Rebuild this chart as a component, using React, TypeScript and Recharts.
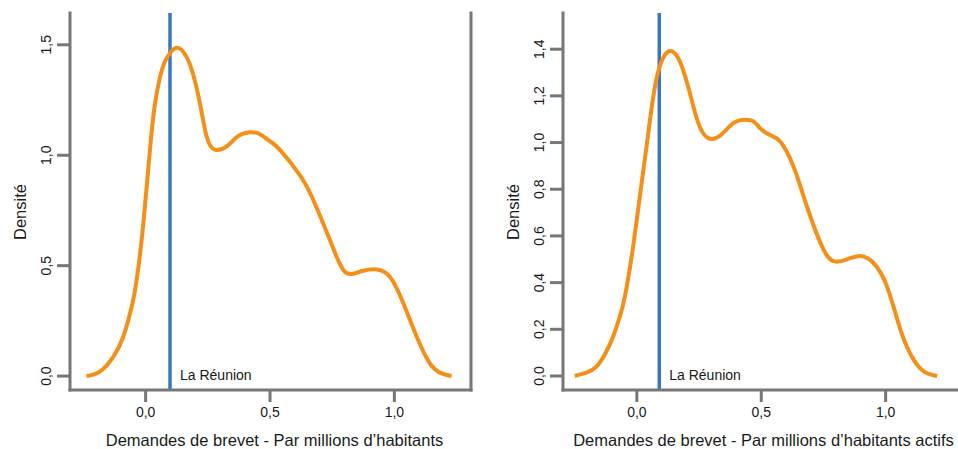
import { LineChart, Line, XAxis, YAxis, ReferenceLine } from "recharts";

const leftX = [
  -0.238, -0.184, -0.13, -0.09, -0.056, -0.036, -0.016, -0.003, 0.01, 0.022,
  0.036, 0.055, 0.078, 0.105, 0.131, 0.171, 0.212, 0.245, 0.279, 0.326, 0.37,
  0.419, 0.46, 0.5, 0.54, 0.62, 0.674, 0.741, 0.768, 0.795, 0.828, 0.875,
  0.929, 0.982, 1.036, 1.09, 1.143, 1.19, 1.23,
];
const leftDensity = [
  0.0, 0.02, 0.087, 0.178, 0.314, 0.435, 0.616, 0.767, 0.93, 1.08, 1.22, 1.34,
  1.425, 1.472, 1.486, 1.43, 1.27, 1.086, 1.025, 1.04, 1.085, 1.104, 1.095,
  1.063, 1.024, 0.91, 0.797, 0.616, 0.54, 0.48, 0.462, 0.477, 0.483, 0.45,
  0.33, 0.178, 0.057, 0.012, 0.0,
];

const rightX = [
  -0.25, -0.2, -0.163, -0.13, -0.095, -0.07, -0.048, -0.015, 0.012, 0.039,
  0.066, 0.092, 0.126, 0.166, 0.206, 0.247, 0.287, 0.334, 0.388, 0.435, 0.47,
  0.496, 0.536, 0.577, 0.63, 0.684, 0.751, 0.798, 0.845, 0.899, 0.952, 1.006,
  1.06, 1.113, 1.16, 1.207,
];
const rightDensity = [
  0.0, 0.015, 0.04, 0.09, 0.17, 0.25, 0.341, 0.555, 0.77, 0.984, 1.198, 1.326,
  1.39, 1.362, 1.24, 1.083, 1.019, 1.029, 1.083, 1.098, 1.09, 1.061, 1.032,
  1.003, 0.896, 0.725, 0.54, 0.49, 0.5, 0.514, 0.483, 0.382, 0.197, 0.069,
  0.015, 0.0,
];

const xTicks = [0, 0.5, 1];
const leftYTicks = [0, 0.5, 1, 1.5];
const rightYTicks = [0, 0.2, 0.4, 0.6, 0.8, 1, 1.2, 1.4];

const leftReunion = 0.098;
const rightReunion = 0.09;

const ORANGE = "#f39019";
const BLUE = "#3b74bf";
const GRAY = "#777777";
const TEXT = "#1a1a1a";
const FONT = "'Liberation Sans', Arial, Helvetica, sans-serif";

const fmt = (v: number) => v.toFixed(1).replace(".", ",");

function XTick(props: any) {
  const { x, y, payload } = props;
  return (
    <text x={x} y={y} dy="0.71em" textAnchor="middle" fontSize={14} fill={TEXT} fontFamily={FONT}>
      {fmt(payload.value)}
    </text>
  );
}

function YTick(props: any) {
  const { x, y, payload } = props;
  return (
    <text
      x={x}
      y={y}
      transform={`rotate(-90 ${x} ${y})`}
      textAnchor="middle"
      fontSize={14}
      fill={TEXT}
      fontFamily={FONT}
    >
      {fmt(payload.value)}
    </text>
  );
}

interface PanelProps {
  xs: number[];
  ys: number[];
  xDomain: [number, number];
  yDomain: [number, number];
  yTicks: number[];
  reunion: number;
  xTitle: string;
  titleShift: number;
}

function Panel({ xs, ys, xDomain, yDomain, yTicks, reunion, xTitle, titleShift }: PanelProps) {
  const data = xs.map((x, i) => ({ x, y: ys[i] }));
  const axisLine = { stroke: GRAY, strokeWidth: 3, strokeLinecap: "square" as const };
  const tickLine = { stroke: GRAY, strokeWidth: 3 };
  return (
    <LineChart width={480} height={449} data={data} margin={{ top: 13, right: 8, bottom: 0, left: 0 }}>
      <XAxis
        dataKey="x"
        type="number"
        domain={xDomain}
        allowDataOverflow
        ticks={xTicks}
        tick={<XTick />}
        tickSize={12}
        tickMargin={5}
        axisLine={axisLine}
        tickLine={tickLine}
        height={59}
        label={{
          value: xTitle,
          position: "insideBottom",
          offset: 3,
          dx: titleShift,
          fontSize: 16.5,
          fill: TEXT,
          fontFamily: FONT,
        }}
      />
      <YAxis
        yAxisId="d"
        type="number"
        domain={yDomain}
        allowDataOverflow
        ticks={yTicks}
        tick={<YTick />}
        tickSize={13}
        tickMargin={6}
        axisLine={axisLine}
        tickLine={tickLine}
        width={70}
        label={{
          content: () => (
            <text
              x={26}
              y={212}
              transform="rotate(-90 26 212)"
              textAnchor="middle"
              fontSize={16.5}
              fill={TEXT}
              fontFamily={FONT}
            >
              Densité
            </text>
          ),
        }}
      />
      <YAxis
        yAxisId="border"
        orientation="right"
        type="number"
        domain={yDomain}
        tick={false}
        tickLine={false}
        axisLine={axisLine}
        width={1}
      />
      <ReferenceLine
        yAxisId="d"
        x={reunion}
        stroke={BLUE}
        strokeWidth={3.5}
        label={{
          value: "La Réunion",
          position: "insideBottomLeft",
          offset: 10,
          fontSize: 14,
          fill: TEXT,
          fontFamily: FONT,
        }}
      />
      <Line
        yAxisId="d"
        type="natural"
        dataKey="y"
        stroke={ORANGE}
        strokeWidth={4}
        dot={false}
        isAnimationActive={false}
      />
    </LineChart>
  );
}

export default function App() {
  return (
    <div
      style={{
        position: "absolute",
        left: 0,
        top: 0,
        width: 958,
        height: 449,
        overflow: "hidden",
        background: "#fff",
      }}
    >
      <div style={{ position: "absolute", left: 0, top: 0 }}>
        <Panel
          xs={leftX}
          ys={leftDensity}
          xDomain={[-0.304, 1.308]}
          yDomain={[-0.063, 1.644]}
          yTicks={leftYTicks}
          reunion={leftReunion}
          xTitle="Demandes de brevet - Par millions d’habitants"
          titleShift={4}
        />
      </div>
      <div style={{ position: "absolute", left: 493, top: 0 }}>
        <Panel
          xs={rightX}
          ys={rightDensity}
          xDomain={[-0.297, 1.315]}
          yDomain={[-0.06, 1.555]}
          yTicks={rightYTicks}
          reunion={rightReunion}
          xTitle="Demandes de brevet - Par millions d’habitants actifs"
          titleShift={0}
        />
      </div>
    </div>
  );
}
